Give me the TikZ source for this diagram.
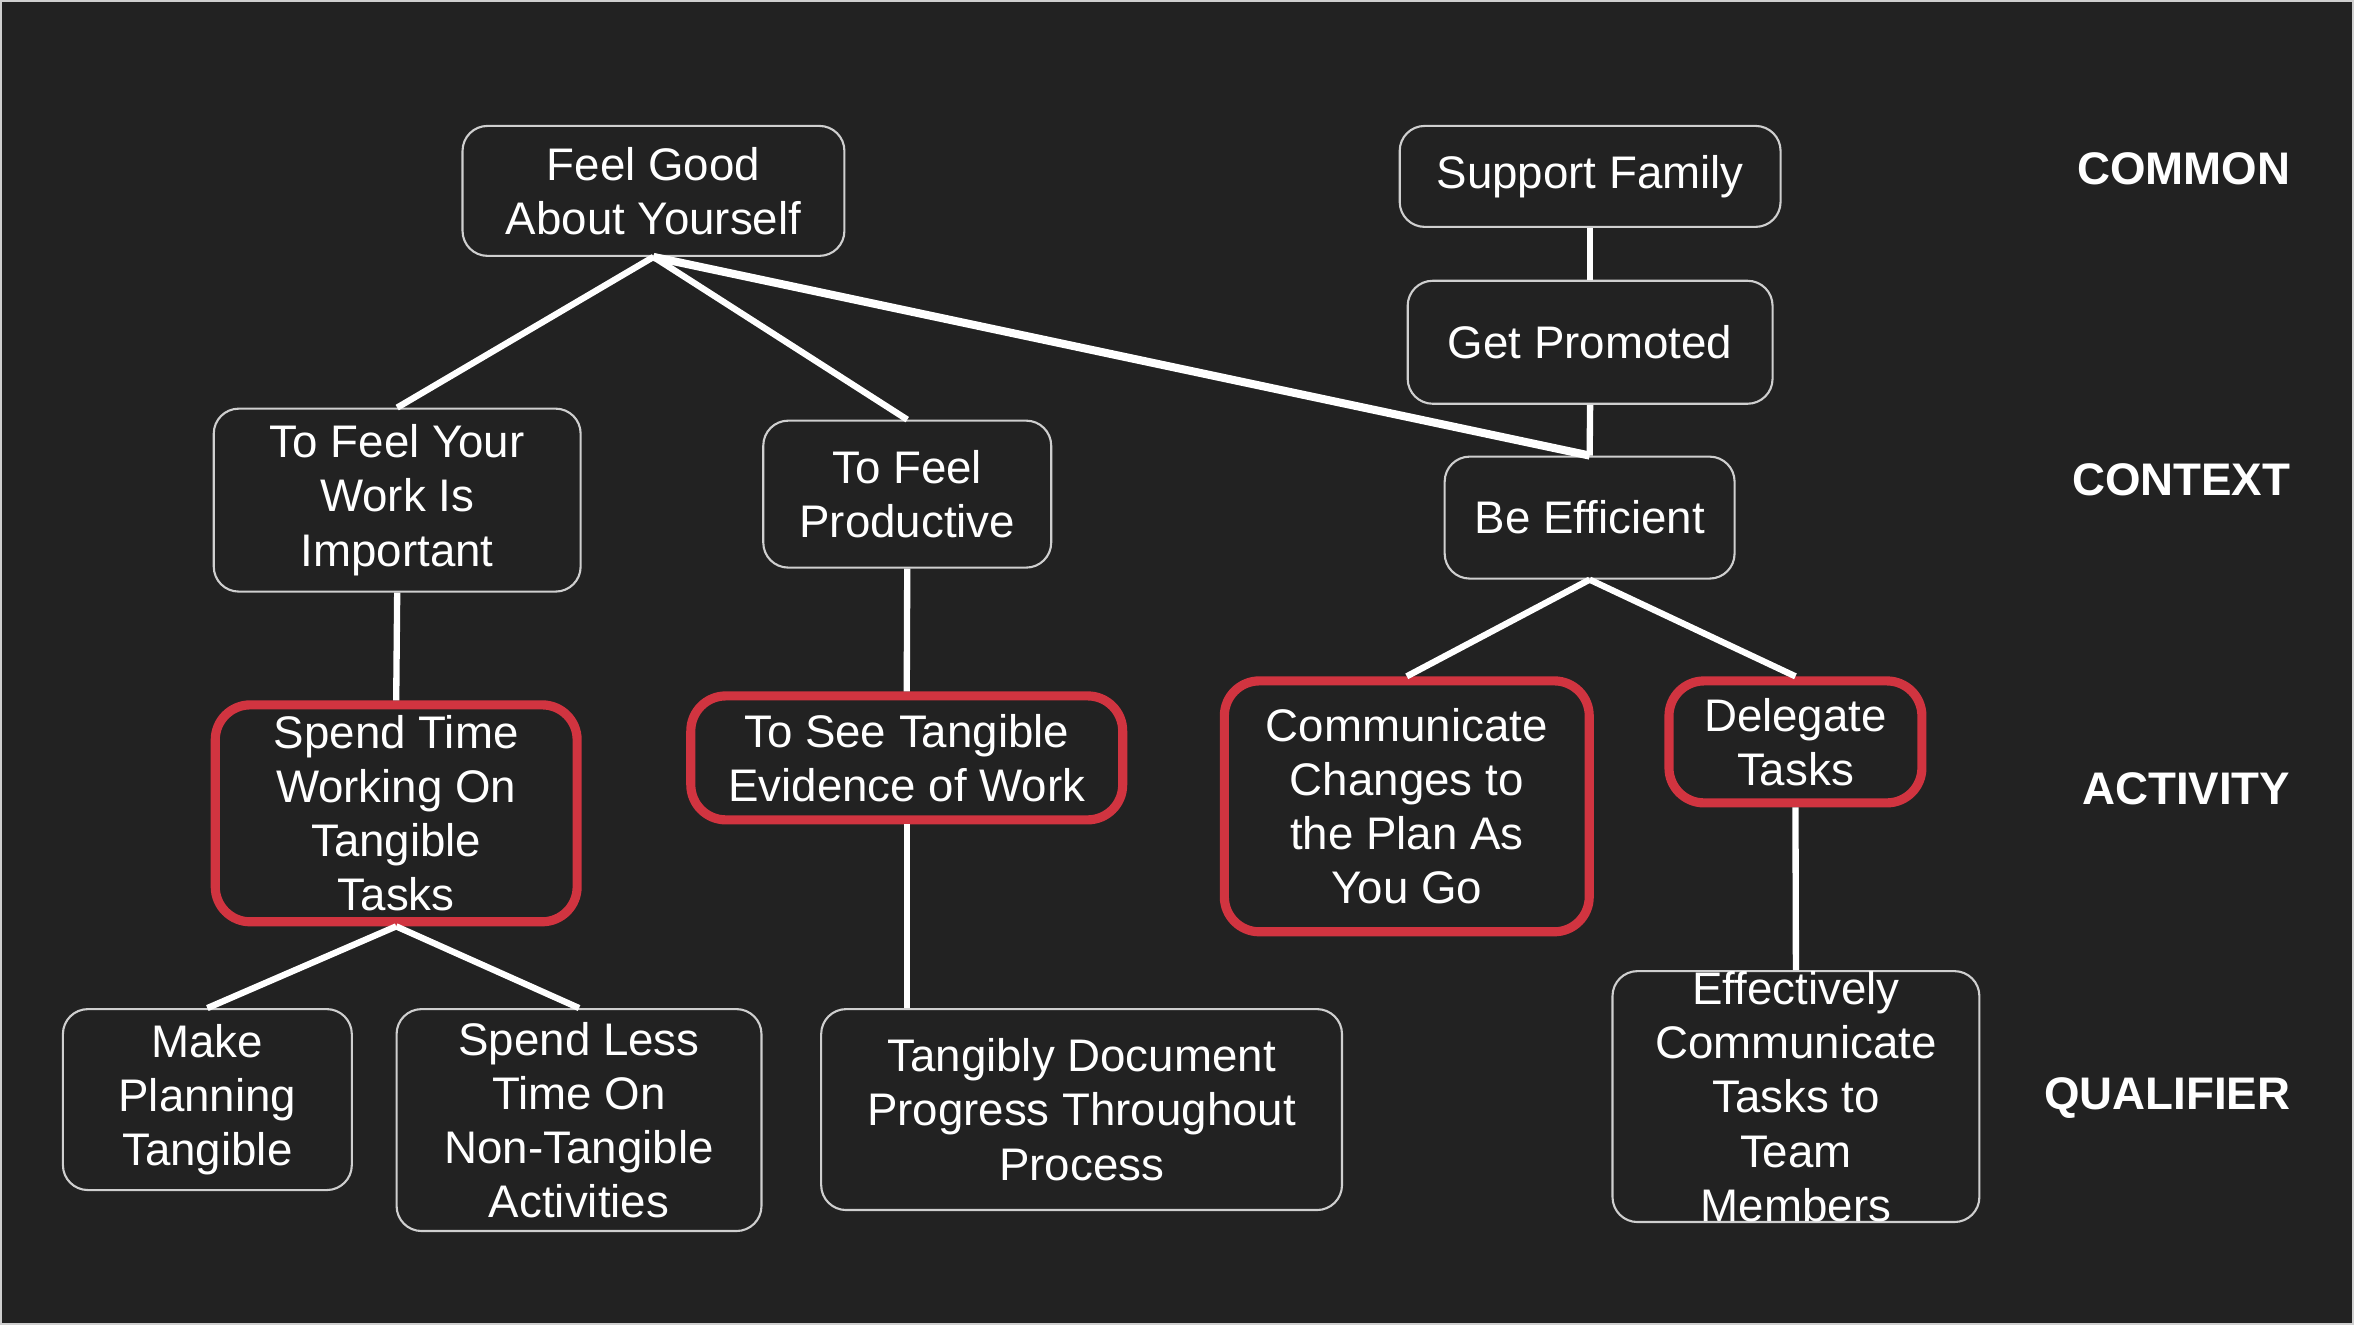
\documentclass[tikz,border=0pt]{standalone}
\usepackage{fontspec}
\setmainfont{Liberation Sans}
\definecolor{bgc}{HTML}{222222}
\definecolor{edgec}{HTML}{CFCFCF}
\definecolor{redc}{HTML}{D13440}
\begin{document}
\begin{tikzpicture}[x=0.01cm,y=-0.01cm,
  box/.style={draw=edgec, line width=0.6pt, rounded corners=0.25cm, fill=bgc,
    text=white, align=center, inner sep=0pt,
    font=\fontsize{13}{15.4}\selectfont},
  redbox/.style={box, draw=redc, line width=2.6pt, rounded corners=0.35cm},
  txt/.style={text=white, align=center, inner sep=0pt,
    font=\fontsize{13}{15.4}\selectfont},
  lvl/.style={text=white, anchor=east, inner sep=0pt,
    font=\fontsize{13}{15.4}\selectfont\bfseries},
  conn/.style={draw=white, line width=1.8pt}]
\fill[bgc] (0,0) rectangle (2354,1324);
\draw[edgec, line width=0.6pt] (0,0) rectangle (2354,1324);
\useasboundingbox (0,0) rectangle (2354,1324);

% COMMON level
\node[box, minimum width=3.82cm, minimum height=1.30cm] (fg) at (653,190) {Feel Good\\About Yourself};
\node[box, minimum width=3.81cm, minimum height=1.01cm] (sf) at (1590.5,175.5) {Support Family};
\node[box, minimum width=3.65cm, minimum height=1.23cm] (gp) at (1590.5,341.5) {Get Promoted};
% CONTEXT level
\node[box, minimum width=2.90cm, minimum height=1.22cm] (be) at (1590,517) {Be Efficient};
\node[box, minimum width=3.67cm, minimum height=1.83cm] (tfy) at (396.5,499.5) {To Feel Your\\Work Is\\Important};
\node[box, minimum width=2.88cm, minimum height=1.47cm] (tfp) at (907,493.5) {To Feel\\Productive};
% ACTIVITY level
\node[redbox, minimum width=3.62cm, minimum height=2.17cm] (stw) at (395.5,813) {Spend Time\\Working On\\Tangible\\Tasks};
\node[redbox, minimum width=4.32cm, minimum height=1.24cm] (tst) at (906.5,757.5) {To See Tangible\\Evidence of Work};
\node[redbox, minimum width=3.65cm, minimum height=2.51cm] (ccp) at (1407,806) {Communicate\\Changes to\\the Plan As\\You Go};
\node[redbox, minimum width=2.53cm, minimum height=1.22cm] (dt) at (1796,741.5) {Delegate\\Tasks};
% QUALIFIER level
\node[box, minimum width=2.89cm, minimum height=1.81cm] (mpt) at (206.5,1099.5) {Make\\Planning\\Tangible};
\node[box, minimum width=3.65cm, minimum height=2.22cm] (slt) at (578.5,1120) {Spend Less\\Time On\\Non-Tangible\\Activities};
\node[box, minimum width=5.21cm, minimum height=2.01cm] (tdp) at (1081.5,1109.5) {Tangibly Document\\Progress Throughout\\Process};
\node[box, minimum width=3.67cm, minimum height=2.51cm] (ect) at (1796.5,1096.5) {};
\node[txt] (ectt) at (ect.center) {Effectively\\Communicate\\Tasks to\\Team\\Members};

% level labels
\node[lvl] (lc) at (2292,168) {COMMON};
\node[lvl] (lx) at (2292,479) {CONTEXT};
\node[lvl] (la) at (2292,788) {ACTIVITY};
\node[lvl] (lq) at (2292,1097.5) {QUALIFIER};

% connectors
\draw[conn] (fg.south) -- (tfy.north);
\draw[conn] (fg.south) -- (tfp.north);
\draw[conn, line width=2.3pt] (fg.south) -- (be.north);
\draw[conn] (sf.south) -- (gp.north);
\draw[conn] (gp.south) -- (be.north);
\draw[conn] (tfy.south) -- (stw.north);
\draw[conn] (tfp.south) -- (tst.north);
\draw[conn] (be.south) -- (ccp.north);
\draw[conn] (be.south) -- (dt.north);
\draw[conn] (stw.south) -- (mpt.north);
\draw[conn] (stw.south) -- (slt.north);
\draw[conn] (tst.south) -- (tst.south |- tdp.north);
\draw[conn] (dt.south) -- (ect.north);
\end{tikzpicture}
\end{document}
